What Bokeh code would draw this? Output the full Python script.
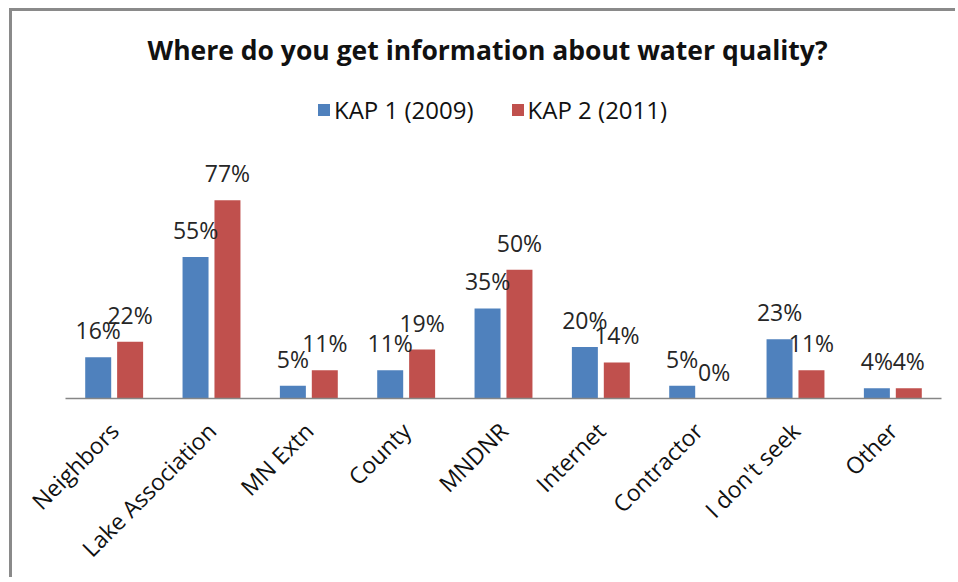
from math import pi
from bokeh.plotting import figure
from bokeh.models import ColumnDataSource, FactorRange, Range1d, LabelSet, Label, Legend, LegendItem, Div
from bokeh.layouts import column, row
from bokeh.transform import dodge
from bokeh.core.properties import value
from bokeh.embed import file_html
from bokeh.resources import INLINE

categories = ["Neighbors", "Lake Association", "MN Extn", "County", "MNDNR",
              "Internet", "Contractor", "I don't seek", "Other"]
kap1_2009 = [16, 55, 5, 11, 35, 20, 5, 23, 4]
kap2_2011 = [22, 77, 11, 19, 50, 14, 0, 11, 4]
series_names = ["KAP 1 (2009)", "KAP 2 (2011)"]
colors = ["#4F81BD", "#C0504D"]
title_text = "Where do you get information about water quality?"

src = ColumnDataSource(dict(
    cat=categories,
    k1=kap1_2009,
    k2=kap2_2011,
    l1=[f"{v}%" for v in kap1_2009],
    l2=[f"{v}%" for v in kap2_2011],
))

FONT = "Open Sans"
BORDER = "#8a8a8a"

p = figure(width=936, height=566, output_backend="svg", toolbar_location=None,
           x_range=FactorRange(*categories, range_padding=0),
           y_range=Range1d(0, 148.0),
           min_border_left=53, min_border_right=7, min_border_top=6, min_border_bottom=173)
p.margin = 0

p.outline_line_color = None
p.xgrid.grid_line_color = None
p.ygrid.grid_line_color = None
p.yaxis.visible = False
p.background_fill_color = None
p.border_fill_color = None

r1 = p.vbar(x=dodge("cat", -0.164, range=p.x_range), top="k1", width=0.267, source=src,
            fill_color=colors[0], line_color=None)
r2 = p.vbar(x=dodge("cat", 0.164, range=p.x_range), top="k2", width=0.267, source=src,
            fill_color=colors[1], line_color=None)

for col, ycol, off in (("l1", "k1", -0.164), ("l2", "k2", 0.164)):
    ls = LabelSet(x=dodge("cat", off, range=p.x_range), y=ycol, text=col, source=src,
                  text_align="center", text_baseline="alphabetic", y_offset=18,
                  text_font=value(FONT), text_font_size=value("23px"), text_color="#262626")
    p.add_layout(ls)

ax = p.xaxis[0]
ax.axis_line_color = "#868686"
ax.axis_line_width = 1.5
ax.major_tick_line_color = None
ax.minor_tick_line_color = None
ax.major_label_orientation = pi / 4
ax.major_label_text_font = FONT
ax.major_label_text_font_size = "23px"
ax.major_label_text_color = "#111111"
ax.major_label_standoff = 22

p.add_layout(Label(x=4.336, y=135.4, text=title_text, text_align="center",
                   text_baseline="middle", text_font=FONT, text_font_size="26.5px",
                   text_font_style="bold", text_color="#111111"))

legend = Legend(items=[LegendItem(label=series_names[0], renderers=[r1]),
                       LegendItem(label=series_names[1], renderers=[r2])],
                orientation="horizontal", location=(251, 272),
                glyph_width=15, glyph_height=15, label_standoff=3, spacing=36,
                padding=0, margin=0, border_line_color=None, background_fill_alpha=0,
                label_text_font=FONT, label_text_font_size="24px", label_text_color="#111111")
p.add_layout(legend)

top_line = Div(text="", width=946, height=3, margin=0,
               styles={"background-color": BORDER})
left_line = Div(text="", width=3, height=566, margin=0,
                styles={"background-color": BORDER})
layout = column(top_line, row(left_line, p, spacing=0), spacing=0)
layout.margin = (8, 0, 0, 9)

open("out.html", "w").write(file_html(layout, INLINE))
